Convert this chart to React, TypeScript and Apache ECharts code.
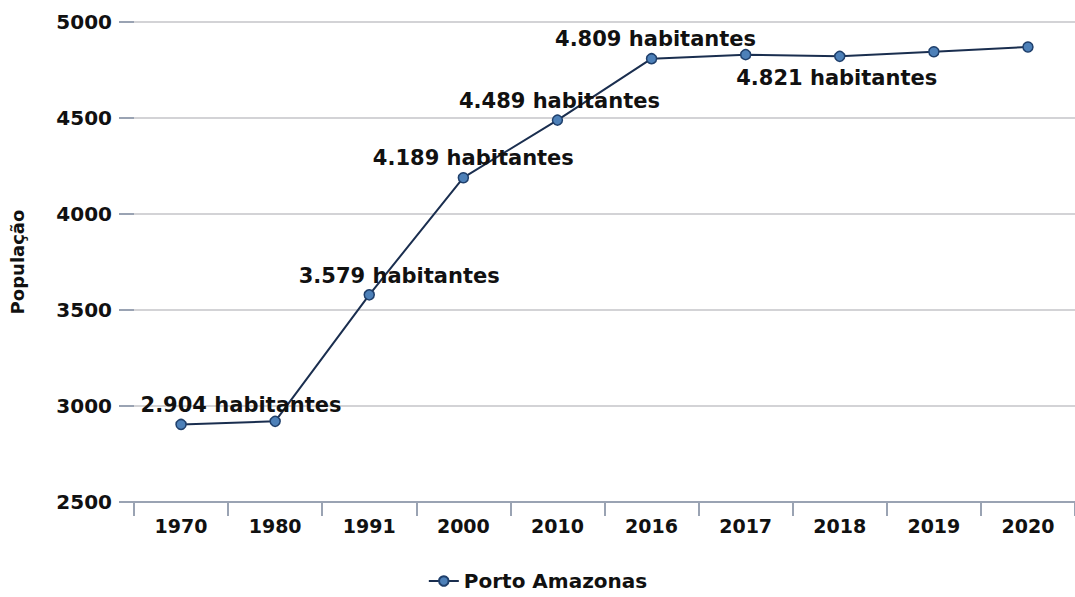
import React, { useEffect, useRef } from "react";
import * as echarts from "echarts";

const categories = ["1970", "1980", "1991", "2000", "2010", "2016", "2017", "2018", "2019", "2020"];
const population = [2904, 2920, 3579, 4189, 4489, 4809, 4830, 4821, 4845, 4870];
const labelTexts = ["2.904 habitantes", "", "3.579 habitantes", "4.189 habitantes", "4.489 habitantes", "4.809 habitantes", "", "4.821 habitantes", "", ""];
const labelOffsets: [number, number][] = [[60, 2], [0, 0], [30, 2], [10, 2], [2, 2], [4, 2], [0, 0], [-3, 0], [0, 0], [0, 0]];
const labelBelow = [false, false, false, false, false, false, false, true, false, false];
const yTicks = [2500, 3000, 3500, 4000, 4500, 5000];

const FONT = "'DejaVu Sans', sans-serif";

export default function App() {
  const ref = useRef<HTMLDivElement>(null);
  useEffect(() => {
    if (!ref.current) return;
    const chart = echarts.init(ref.current, null, { renderer: "svg" });
    const data = population.map((v, i) => ({
      value: v,
      label: {
        show: labelTexts[i] !== "",
        formatter: labelTexts[i],
        position: labelBelow[i] ? "bottom" : "top",
        offset: labelOffsets[i],
        distance: 5,
        fontSize: 21,
        fontWeight: "bold",
        fontFamily: FONT,
        color: "#111",
      },
    }));
    chart.setOption({
      animation: false,
      grid: { left: 130, top: 22, width: 952, height: 480 },
      legend: {
        top: 566,
        left: "center",
        data: ["Porto Amazonas"],
        itemWidth: 30,
        itemHeight: 12,
        textStyle: { fontSize: 20, lineHeight: 20, fontWeight: "bold", fontFamily: FONT, color: "#111" },
      },
      xAxis: {
        type: "category",
        data: categories,
        boundaryGap: true,
        axisLine: { lineStyle: { color: "#9aa3b3", width: 2 } },
        axisTick: { show: true, length: 14, lineStyle: { color: "#9aa3b3", width: 2 } },
        axisLabel: { fontSize: 19, fontWeight: "bold", fontFamily: FONT, color: "#111", margin: 14 },
      },
      yAxis: {
        type: "value",
        min: yTicks[0],
        max: yTicks[yTicks.length - 1],
        interval: 500,
        name: "População",
        nameLocation: "middle",
        nameGap: 108,
        nameRotate: 90,
        nameTextStyle: { fontSize: 18, fontWeight: "bold", fontFamily: FONT, color: "#111" },
        axisLine: { show: false },
        axisTick: { show: true, length: 15, lineStyle: { color: "#9aa3b3", width: 2 } },
        axisLabel: {
          fontSize: 20,
          fontWeight: "bold",
          fontFamily: FONT,
          color: "#111",
          margin: 22,
          formatter: (v: number) => String(v),
        },
        splitLine: { lineStyle: { color: "#d3d3d6", width: 2 } },
      },
      series: [
        {
          name: "Porto Amazonas",
          type: "line",
          data,
          symbol: "circle",
          symbolSize: 10,
          lineStyle: { color: "#1a2e4f", width: 2 },
          itemStyle: { color: "#4d80b8", borderColor: "#1f3f6b", borderWidth: 1.5 },
        },
      ],
    });
    return () => chart.dispose();
  }, []);
  return (
    <div
      ref={ref}
      style={{ position: "absolute", left: 0, top: 0, width: 1075, height: 597 }}
    />
  );
}
